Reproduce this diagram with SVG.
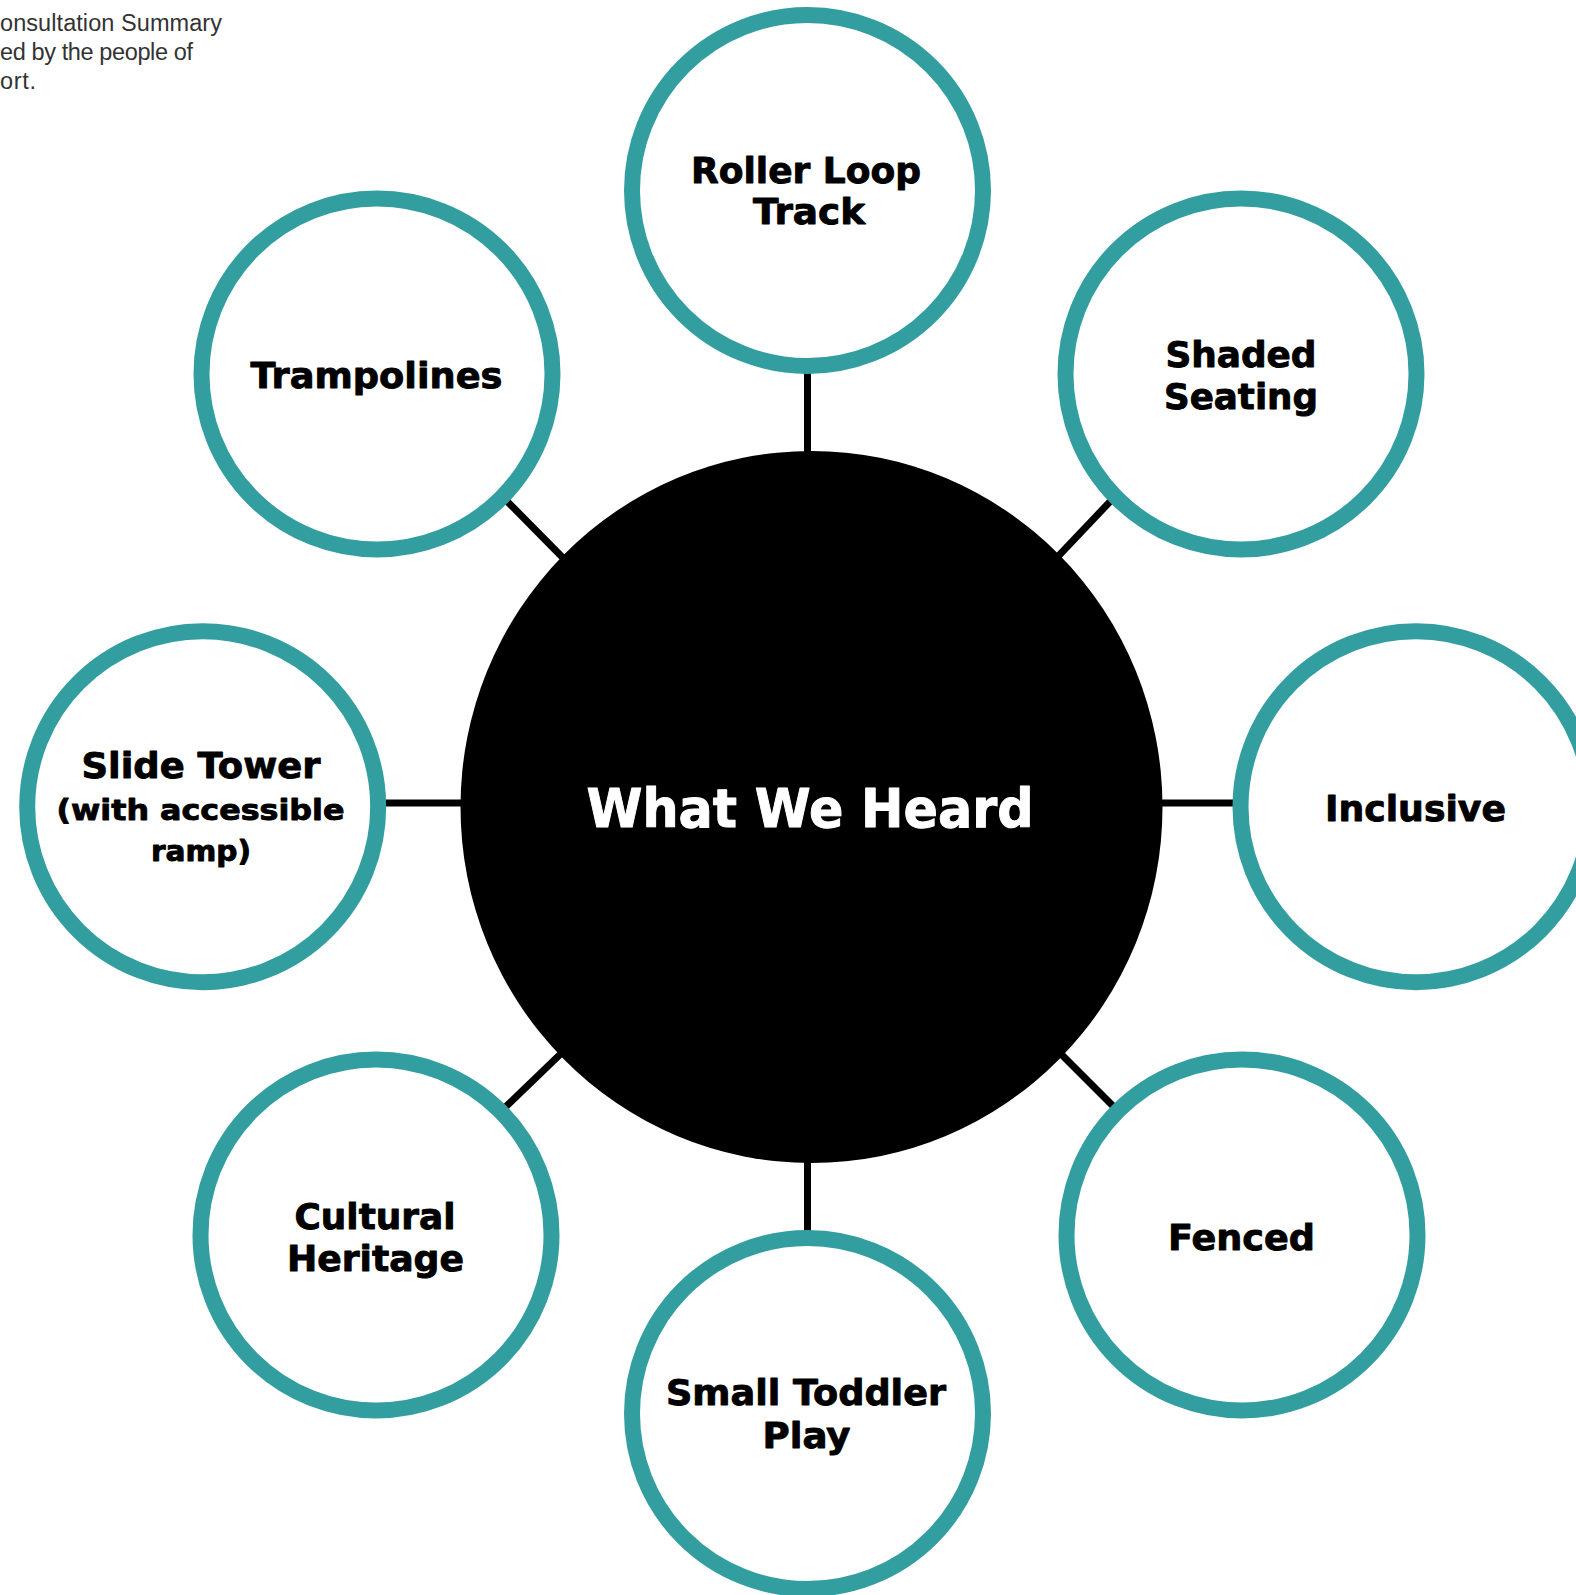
<svg xmlns="http://www.w3.org/2000/svg" width="1576" height="1595" viewBox="0 0 1576 1595">
  <style>
    .ring { fill: #ffffff; stroke: #339ea0; stroke-width: 16; }
    .conn { stroke: #000000; stroke-width: 7; fill: none; }
    .lbl { font-family: "DejaVu Sans", "Liberation Sans", sans-serif; font-weight: bold; font-size: 36px; fill: #000000; text-anchor: middle; stroke: #000000; stroke-width: 0.9; stroke-linejoin: round; }
    .sm { font-size: 29px; }
    .hub { font-family: "DejaVu Sans", "Liberation Sans", sans-serif; font-weight: bold; font-size: 54px; fill: #ffffff; text-anchor: middle; stroke: #ffffff; stroke-width: 1; stroke-linejoin: round; }
    .note { font-family: "Liberation Sans", Arial, sans-serif; font-size: 23.5px; fill: #333333; }
  </style>
  <rect x="0" y="0" width="1576" height="1595" fill="#ffffff"/>

  <g id="caption">
    <text class="note" x="0" y="30.5" textLength="222">onsultation Summary</text>
    <text class="note" x="0" y="59.5" textLength="193">ed by the people of</text>
    <text class="note" x="0" y="88.5" textLength="36">ort.</text>
  </g>

  <g id="connectors">
    <line class="conn" x1="807.5" y1="360" x2="807.5" y2="470"/>
    <line class="conn" x1="807.5" y1="1150" x2="807.5" y2="1245"/>
    <line class="conn" x1="370" y1="803" x2="480" y2="803"/>
    <line class="conn" x1="1150" y1="803" x2="1245" y2="803"/>
    <line class="conn" x1="495" y1="489" x2="575" y2="570"/>
    <line class="conn" x1="1122" y1="489" x2="1047" y2="568"/>
    <line class="conn" x1="494" y1="1118" x2="573" y2="1042"/>
    <line class="conn" x1="1050" y1="1043" x2="1125" y2="1118"/>
  </g>

  <g id="hub">
    <ellipse cx="811.5" cy="807" rx="351" ry="356" fill="#000000"/>
    <text class="hub" x="810" y="827" textLength="447" lengthAdjust="spacingAndGlyphs">What We Heard</text>
  </g>

  <g id="roller-loop-track">
    <circle class="ring" cx="807.5" cy="190.5" r="175.5"/>
    <text class="lbl" x="806" y="183" textLength="230" lengthAdjust="spacingAndGlyphs">Roller Loop</text>
    <text class="lbl" x="809" y="224" textLength="112" lengthAdjust="spacingAndGlyphs">Track</text>
  </g>

  <g id="trampolines">
    <circle class="ring" cx="377" cy="374" r="175.5"/>
    <text class="lbl" x="376.5" y="388" textLength="252" lengthAdjust="spacingAndGlyphs">Trampolines</text>
  </g>

  <g id="shaded-seating">
    <circle class="ring" cx="1241" cy="374" r="175.5"/>
    <text class="lbl" x="1241" y="367" textLength="151" lengthAdjust="spacingAndGlyphs">Shaded</text>
    <text class="lbl" x="1241" y="409" textLength="154" lengthAdjust="spacingAndGlyphs">Seating</text>
  </g>

  <g id="slide-tower">
    <circle class="ring" cx="202.7" cy="806.7" r="175.5"/>
    <text class="lbl" x="201" y="778" textLength="239" lengthAdjust="spacingAndGlyphs">Slide Tower</text>
    <text class="lbl sm" x="200.5" y="820" textLength="288" lengthAdjust="spacingAndGlyphs">(with accessible</text>
    <text class="lbl sm" x="201" y="861" textLength="100" lengthAdjust="spacingAndGlyphs">ramp)</text>
  </g>

  <g id="inclusive">
    <circle class="ring" cx="1416" cy="806.7" r="175.5"/>
    <text class="lbl" x="1415.5" y="821" textLength="181" lengthAdjust="spacingAndGlyphs">Inclusive</text>
  </g>

  <g id="cultural-heritage">
    <circle class="ring" cx="376" cy="1235" r="175.5"/>
    <text class="lbl" x="375" y="1229" textLength="161" lengthAdjust="spacingAndGlyphs">Cultural</text>
    <text class="lbl" x="375.5" y="1271" textLength="177" lengthAdjust="spacingAndGlyphs">Heritage</text>
  </g>

  <g id="fenced">
    <circle class="ring" cx="1242" cy="1235" r="175.5"/>
    <text class="lbl" x="1241.5" y="1250" textLength="147" lengthAdjust="spacingAndGlyphs">Fenced</text>
  </g>

  <g id="small-toddler-play">
    <circle class="ring" cx="807.5" cy="1413.5" r="175.5"/>
    <text class="lbl" x="806" y="1405" textLength="280" lengthAdjust="spacingAndGlyphs">Small Toddler</text>
    <text class="lbl" x="806.5" y="1448" textLength="88" lengthAdjust="spacingAndGlyphs">Play</text>
  </g>
</svg>
